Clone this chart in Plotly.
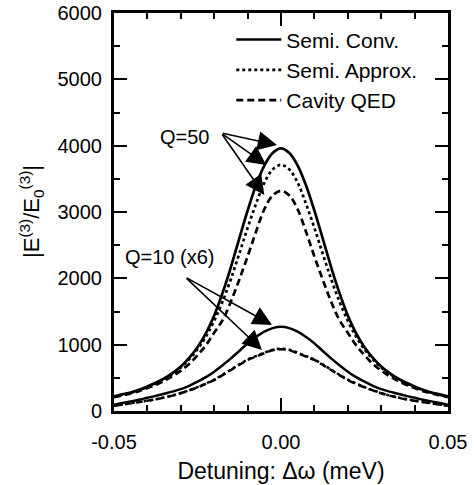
import plotly.graph_objects as go

# Detuning grid (meV)
detuning = [-0.05, -0.0475, -0.045, -0.0425, -0.04, -0.0375, -0.035, -0.0325, -0.03, -0.0275,
            -0.025, -0.0225, -0.02, -0.0175, -0.015, -0.0125, -0.01, -0.0075, -0.005, -0.0025,
            0.0,
            0.0025, 0.005, 0.0075, 0.01, 0.0125, 0.015, 0.0175, 0.02, 0.0225, 0.025,
            0.0275, 0.03, 0.0325, 0.035, 0.0375, 0.04, 0.0425, 0.045, 0.0475, 0.05]

# Q = 50
q50_semi_conv = [220, 250, 280, 320, 370, 425, 490, 570, 670, 800,
                 960, 1170, 1440, 1780, 2170, 2600, 3020, 3400, 3700, 3890,
                 3960,
                 3890, 3700, 3400, 3020, 2600, 2170, 1780, 1440, 1170, 960,
                 800, 670, 570, 490, 425, 370, 320, 280, 250, 220]
q50_semi_approx = [215, 245, 275, 315, 360, 415, 480, 560, 655, 780,
                   930, 1120, 1360, 1650, 1990, 2370, 2760, 3120, 3440, 3640,
                   3710,
                   3640, 3440, 3120, 2760, 2370, 1990, 1650, 1360, 1120, 930,
                   780, 655, 560, 480, 415, 360, 315, 275, 245, 215]
q50_cavity_qed = [210, 235, 265, 300, 345, 395, 455, 525, 610, 710,
                  840, 990, 1180, 1370, 1650, 1980, 2330, 2700, 3040, 3250,
                  3320,
                  3250, 3040, 2700, 2330, 1980, 1650, 1370, 1180, 990, 840,
                  710, 610, 525, 455, 395, 345, 300, 265, 235, 210]

# Q = 10 (multiplied by 6)
q10_semi_conv = [95, 120, 145, 170, 200, 228, 260, 292, 330, 380,
                 442, 510, 593, 690, 794, 905, 1020, 1115, 1196, 1250,
                 1271,
                 1250, 1196, 1115, 1020, 905, 794, 690, 593, 510, 442,
                 380, 330, 292, 260, 228, 200, 170, 145, 120, 95]
q10_semi_approx = [80, 98, 117, 137, 157, 178, 204, 234, 270, 313,
                   360, 414, 472, 546, 625, 702, 776, 828, 878, 923,
                   938,
                   923, 878, 828, 776, 702, 625, 546, 472, 414, 360,
                   313, 270, 234, 204, 178, 157, 137, 117, 98, 80]
q10_cavity_qed = [78, 95, 115, 135, 155, 176, 202, 232, 267, 310,
                  357, 410, 467, 540, 618, 695, 769, 820, 870, 915,
                  930,
                  915, 870, 820, 769, 695, 618, 540, 467, 410, 357,
                  310, 267, 232, 202, 176, 155, 135, 115, 95, 78]

legend_names = ["Semi. Conv.", "Semi. Approx.", "Cavity QED"]
x_tickvals = [-0.05, 0.0, 0.05]
x_ticktext = ["-0.05", "0.00", "0.05"]
y_tickvals = [0, 1000, 2000, 3000, 4000, 5000, 6000]
y_ticktext = ["0", "1000", "2000", "3000", "4000", "5000", "6000"]

FONT = "Liberation Sans, Arial, Helvetica, sans-serif"
DASHES = ["solid", "3px,3px", "7px,4px"]

fig = go.Figure()
for name, ys, dash in zip(legend_names, [q50_semi_conv, q50_semi_approx, q50_cavity_qed], DASHES):
    fig.add_trace(go.Scatter(x=detuning, y=ys, mode="lines", name=name,
                             line=dict(color="black", width=2.7, dash=dash, shape="spline")))
for name, ys, dash in zip(legend_names, [q10_semi_conv, q10_semi_approx, q10_cavity_qed], DASHES):
    fig.add_trace(go.Scatter(x=detuning, y=ys, mode="lines", name=name, showlegend=False,
                             line=dict(color="black", width=2.5, dash=dash, shape="spline")))

# annotations: labels and arrows
fig.add_annotation(x=-0.0209, y=4130, text="Q=50", showarrow=False, xanchor="right",
                   yanchor="middle", font=dict(size=20, color="black", family=FONT))
fig.add_annotation(x=-0.0472, y=2322, text="Q=10 (x6)", showarrow=False, xanchor="left",
                   yanchor="middle", font=dict(size=20, color="black", family=FONT))

# y-axis title as a rotated annotation for exact placement
fig.add_annotation(xref="paper", yref="paper", x=-0.2485, y=0.50, xanchor="center", yanchor="middle",
                   text="|E<sup>(3)</sup>/E<sub>0</sub><sup>(3)</sup>|", textangle=-90, showarrow=False,
                   font=dict(size=22, color="black", family=FONT))

arrow_tails_50 = (-0.0179, 4191)
arrow_tips_50 = [(-0.0012, 4010), (-0.0044, 3709), (-0.005, 3256)]
arrow_tails_10 = (-0.0287, 2020)
arrow_tips_10 = [(-0.0027, 1297), (-0.0057, 920)]
for tail, tips in [(arrow_tails_50, arrow_tips_50), (arrow_tails_10, arrow_tips_10)]:
    for tip in tips:
        fig.add_annotation(x=tip[0], y=tip[1], ax=tail[0], ay=tail[1], xref="x", yref="y",
                           axref="x", ayref="y", text="", showarrow=True, arrowhead=2,
                           arrowsize=2.4, arrowwidth=1.6, arrowcolor="black", standoff=0)

axis_common = dict(showline=True, linewidth=3, linecolor="black", mirror="allticks",
                   ticks="inside", tickwidth=2, tickcolor="black", ticklen=13,
                   showgrid=False, zeroline=False, automargin=False, ticklabeloverflow="allow",
                   tickfont=dict(size=20, color="black", family=FONT))

fig.update_xaxes(range=[-0.05, 0.05], tickvals=x_tickvals, ticktext=x_ticktext,
                 minor=dict(ticks="inside", ticklen=6, tickwidth=2, tickcolor="black", dtick=0.01,
                            tick0=0, showgrid=False),
                 title=dict(text="Detuning: \u0394\u03c9 (meV)", font=dict(size=23, color="black", family=FONT),
                            standoff=11),
                 ticklabelstandoff=11, **axis_common)
fig.update_yaxes(range=[0, 6000], tickvals=y_tickvals, ticktext=y_ticktext,
                 minor=dict(ticks="inside", ticklen=6, tickwidth=2, tickcolor="black", dtick=500,
                            tick0=0, showgrid=False),
                 ticklabelstandoff=5, **axis_common)

fig.update_layout(
    width=474, height=485,
    margin=dict(l=114, r=26, t=13, b=74),
    paper_bgcolor="white", plot_bgcolor="white",
    font=dict(family=FONT, color="black"),
    showlegend=True,
    legend=dict(x=0.923, xanchor="right", y=0.984, yanchor="top", bgcolor="rgba(0,0,0,0)",
                font=dict(size=21, color="black", family=FONT), itemwidth=45,
                tracegroupgap=0),
)

fig.write_html("out.html", config={"displayModeBar": False},
               post_script="document.body.style.margin='0px';")
